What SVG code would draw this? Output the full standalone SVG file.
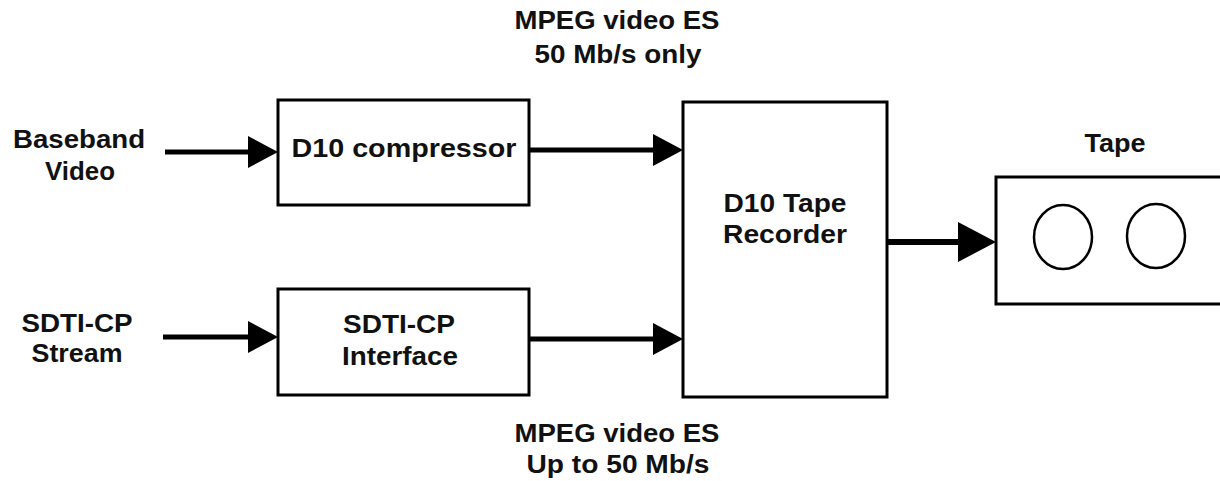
<svg xmlns="http://www.w3.org/2000/svg" width="1220" height="481" viewBox="0 0 1220 481">
  <style>
    .box { fill: #fff; stroke: #000; stroke-width: 3; }
    .reel { fill: none; stroke: #000; stroke-width: 2.5; }
    .wire { stroke: #000; stroke-width: 5; fill: none; }
    .wire-lg { stroke: #000; stroke-width: 6; fill: none; }
    text { font-family: "Liberation Sans", Arial, sans-serif; font-weight: bold; font-size: 25px; fill: #111; text-anchor: middle; }
  </style>
  <defs>
    <marker id="head" markerUnits="userSpaceOnUse" viewBox="0 0 30 32" markerWidth="30" markerHeight="32" refX="0" refY="16" orient="auto">
      <path d="M0,0 L30,16 L0,32 Z" fill="#000"/>
    </marker>
    <marker id="head-lg" markerUnits="userSpaceOnUse" viewBox="0 0 38 40" markerWidth="38" markerHeight="40" refX="0" refY="20" orient="auto">
      <path d="M0,0 L38,20 L0,40 Z" fill="#000"/>
    </marker>
  </defs>

  <rect width="1220" height="481" fill="#fff"/>

  <!-- stream labels -->
  <g id="label-top">
    <text x="617" y="29" textLength="205" lengthAdjust="spacingAndGlyphs">MPEG video ES</text>
    <text x="618" y="63" textLength="167" lengthAdjust="spacingAndGlyphs">50 Mb/s only</text>
  </g>
  <g id="label-bottom">
    <text x="617" y="442" textLength="205" lengthAdjust="spacingAndGlyphs">MPEG video ES</text>
    <text x="618" y="473" textLength="183" lengthAdjust="spacingAndGlyphs">Up to 50 Mb/s</text>
  </g>

  <!-- inputs -->
  <g id="baseband-video">
    <text x="79" y="148" textLength="132" lengthAdjust="spacingAndGlyphs">Baseband</text>
    <text x="80" y="180" textLength="70" lengthAdjust="spacingAndGlyphs">Video</text>
  </g>
  <g id="sdti-stream">
    <text x="77" y="332" textLength="111" lengthAdjust="spacingAndGlyphs">SDTI-CP</text>
    <text x="77" y="362" textLength="91" lengthAdjust="spacingAndGlyphs">Stream</text>
  </g>

  <!-- processing blocks -->
  <g id="d10-compressor">
    <rect class="box" x="278" y="100" width="251" height="105"/>
    <text x="404" y="157" textLength="225" lengthAdjust="spacingAndGlyphs">D10 compressor</text>
  </g>
  <g id="sdti-interface">
    <rect class="box" x="278" y="289" width="251" height="106"/>
    <text x="399" y="333" textLength="112" lengthAdjust="spacingAndGlyphs">SDTI-CP</text>
    <text x="400" y="365" textLength="116" lengthAdjust="spacingAndGlyphs">Interface</text>
  </g>
  <g id="d10-recorder">
    <rect class="box" x="683" y="102" width="204" height="295"/>
    <text x="785" y="212" textLength="123" lengthAdjust="spacingAndGlyphs">D10 Tape</text>
    <text x="785" y="243" textLength="124" lengthAdjust="spacingAndGlyphs">Recorder</text>
  </g>

  <!-- tape cassette, running off the right edge -->
  <g id="tape">
    <text x="1115" y="152" textLength="61" lengthAdjust="spacingAndGlyphs">Tape</text>
    <rect class="box" x="996" y="177" width="240" height="127"/>
    <ellipse class="reel" cx="1063" cy="237" rx="29" ry="32"/>
    <ellipse class="reel" cx="1156" cy="236" rx="29" ry="32"/>
  </g>

  <!-- signal flow -->
  <g id="connectors">
    <line class="wire" x1="165" y1="152" x2="248" y2="152" marker-end="url(#head)"/>
    <line class="wire" x1="163" y1="337" x2="248" y2="337" marker-end="url(#head)"/>
    <line class="wire" x1="529" y1="150" x2="653" y2="150" marker-end="url(#head)"/>
    <line class="wire" x1="529" y1="339" x2="653" y2="339" marker-end="url(#head)"/>
    <line class="wire-lg" x1="887" y1="242" x2="958" y2="242" marker-end="url(#head-lg)"/>
  </g>
</svg>
